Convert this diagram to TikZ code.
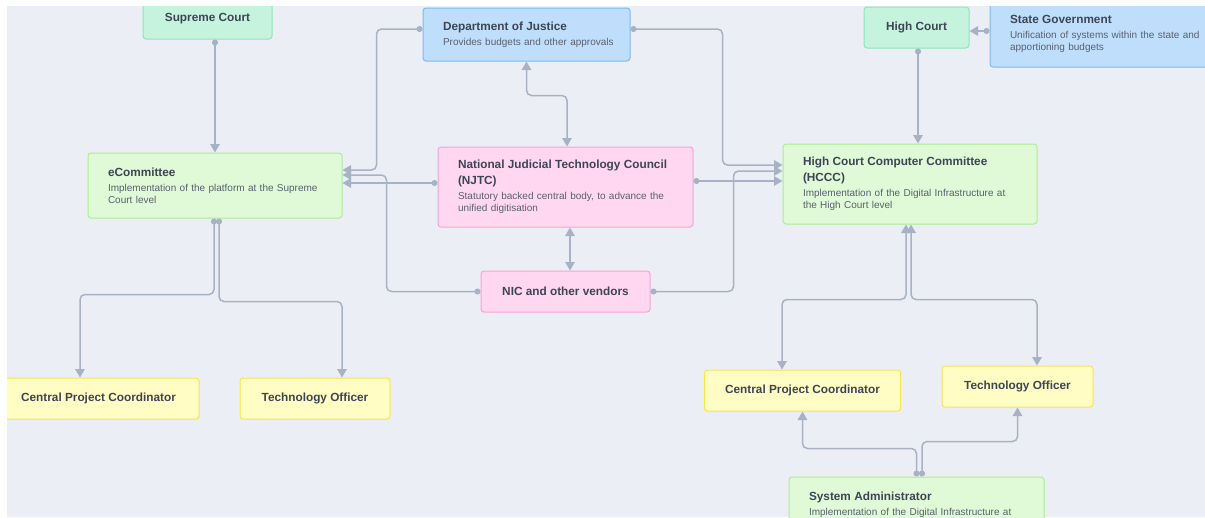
\documentclass[tikz,border=0pt]{standalone}
\usepackage{fontspec}
\setmainfont{Liberation Sans}
\usetikzlibrary{arrows.meta,calc}
\definecolor{canvas}{HTML}{ECEEF5}
\definecolor{txt}{HTML}{3E4555}
\definecolor{dtxt}{HTML}{5A6171}
\definecolor{lineclr}{HTML}{A7B2C4}
\definecolor{mintF}{HTML}{C5F3DE}\definecolor{mintD}{HTML}{8EE6B8}
\definecolor{lgrF}{HTML}{E0F9D6}\definecolor{lgrD}{HTML}{A9EE93}
\definecolor{bluF}{HTML}{BFDEFB}\definecolor{bluD}{HTML}{7DB9F2}
\definecolor{pnkF}{HTML}{FFD7F0}\definecolor{pnkD}{HTML}{F8A3D6}
\definecolor{yelF}{HTML}{FFFCC4}\definecolor{yelD}{HTML}{F5E650}
\newcommand{\ttl}[1]{{\fontsize{11.8}{16}\selectfont\bfseries #1\par}}
\newcommand{\dsc}[1]{\vspace{3pt}{\fontsize{10}{12}\selectfont\color{dtxt}#1\par}}
\tikzset{
  boxbase/.style={rounded corners=3pt, line width=1pt, text=txt},
  sbox/.style={boxbase, inner sep=0pt, font=\fontsize{11.8}{14}\selectfont\bfseries},
  dbox/.style={boxbase, text width=#1, inner xsep=20pt, inner ysep=0pt, align=left},
  mint/.style={fill=mintF, draw=mintD},
  lgreen/.style={fill=lgrF, draw=lgrD},
  bluebox/.style={fill=bluF, draw=bluD},
  pinkbox/.style={fill=pnkF, draw=pnkD},
  yelbox/.style={fill=yelF, draw=yelD},
  conn/.style={draw=lineclr, line width=1.5pt, rounded corners=5pt},
  flow/.style={conn, {Circle[length=6pt]}-{Triangle[length=8.5pt,width=9.5pt]}},
  biflow/.style={conn, {Triangle[length=8.5pt,width=9.5pt]}-{Triangle[length=8.5pt,width=9.5pt]}}
}
\begin{document}
\begin{tikzpicture}[x=1pt,y=-1pt]
\useasboundingbox (0,0) rectangle (1205,517);
\fill[white] (0,0) rectangle (1205,517);
\fill[canvas] (7,6) rectangle (1205,517);
\begin{scope}
\clip (7,6) rectangle (1205,517);
% nodes
\node[sbox, mint, minimum width=129pt, minimum height=40pt] (sc) at (207.5,19) {Supreme Court};
\node[dbox=167pt, bluebox, minimum height=53pt] (doj) at (526.5,34.5)
  {\ttl{\mbox{Department of Justice}}\dsc{\mbox{Provides budgets and other approvals}}};
\node[sbox, mint, minimum width=105pt, minimum height=41pt] (hc) at (916.5,27.5) {High Court};
\node[dbox=190pt, bluebox, minimum height=66pt] (sg) at (1105,34)
  {\ttl{\mbox{State Government}}\dsc{\mbox{Unification of systems within the state and}\\\mbox{apportioning budgets}}};
\node[dbox=214pt, lgreen, minimum height=65pt] (ec) at (215,185.5)
  {\ttl{\mbox{eCommittee}}\dsc{\mbox{Implementation of the platform at the Supreme}\\\mbox{Court level}}};
\node[dbox=215pt, pinkbox, minimum height=80pt] (njtc) at (565.5,187)
  {\ttl{\mbox{National Judicial Technology Council}\\\mbox{(NJTC)}}\dsc{\mbox{Statutory backed central body, to advance the}\\\mbox{unified digitisation}}};
\node[dbox=214pt, lgreen, minimum height=80pt] (hccc) at (910,184)
  {\ttl{\mbox{High Court Computer Committee}\\\mbox{(HCCC)}}\dsc{\mbox{Implementation of the Digital Infrastructure at}\\\mbox{the High Court level}}};
\node[sbox, pinkbox, minimum width=169pt, minimum height=41pt] (nic) at (565.5,291.5) {NIC and other vendors};
\node[sbox, yelbox, minimum width=201pt, minimum height=41pt] (cpcl) at (98.5,398.5) {Central Project Coordinator};
\node[sbox, yelbox, minimum width=150pt, minimum height=41pt] (tol) at (315,398.5) {Technology Officer};
\node[sbox, yelbox, minimum width=196pt, minimum height=41pt] (cpcr) at (802.5,390.5) {Central Project Coordinator};
\node[sbox, yelbox, minimum width=151pt, minimum height=41pt] (tor) at (1017.5,386.5) {Technology Officer};
\node[dbox=215pt, lgreen, minimum height=65pt] (sa) at (916.5,509.5)
  {\ttl{\mbox{System Administrator}}\dsc{\mbox{Implementation of the Digital Infrastructure at}\\\mbox{}}};
% connectors
\draw[flow] (sc.south -| ec.north) -- (ec.north);
\draw[flow] ([yshift=5.5pt]doj.west) -| ([xshift=34pt,yshift=15.5pt]ec.east) -- ([yshift=15.5pt]ec.east);
\draw[flow] ([yshift=4pt]njtc.west) -- ([yshift=4pt]njtc.west -| ec.east);
\draw[flow] (nic.west) -| ([xshift=44pt,yshift=10.5pt]ec.east) -- ([yshift=10.5pt]ec.east);
\draw[flow] ([yshift=5.5pt]doj.east) -| ([xshift=-60pt,yshift=19pt]hccc.west) -- ([yshift=19pt]hccc.west);
\draw[flow] ([yshift=6pt]njtc.east) -- ([yshift=6pt]njtc.east -| hccc.west);
\draw[flow] (nic.east) -| ([xshift=-49pt,yshift=13pt]hccc.west) -- ([yshift=13pt]hccc.west);
\draw[biflow] (doj.south) -- ++(0,34) -| ([xshift=1.5pt]njtc.north);
\draw[biflow] ([xshift=4.5pt]njtc.south) -- ([xshift=4.5pt]njtc.south |- nic.north);
\draw[flow] ([xshift=1.5pt]hc.south) -- ([xshift=1.5pt]hc.south |- hccc.north);
\draw[flow] ([yshift=3pt]sg.west) -- ([yshift=3pt]sg.west -| hc.east);
\draw[flow] ([xshift=-1pt]ec.south) -- ++(0,76) -| ([xshift=-18.5pt]cpcl.north);
\draw[flow] ([xshift=4pt]ec.south) -- ++(0,83) -| ([xshift=27pt]tol.north);
\draw[biflow] ([xshift=-4pt]hccc.south) -- ++(0,75) -| ([xshift=-20.5pt]cpcr.north);
\draw[biflow] ([xshift=1pt]hccc.south) -- ++(0,75) -| ([xshift=19.5pt]tor.north);
\draw[flow] (sa.north) -- ++(0,-28) -| (cpcr.south);
\draw[flow] ([xshift=5.5pt]sa.north) -- ++(0,-35) -| (tor.south);
\end{scope}
\end{tikzpicture}
\end{document}
